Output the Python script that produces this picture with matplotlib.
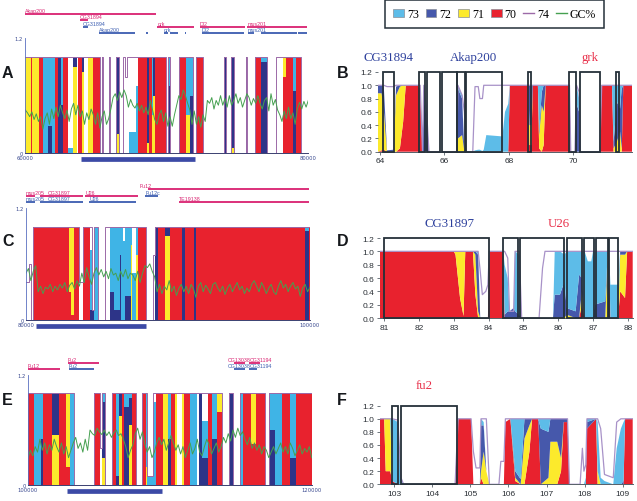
import numpy as np
import matplotlib
matplotlib.use("Agg")
import matplotlib.pyplot as plt
from matplotlib.lines import Line2D
from matplotlib.patches import Patch, Rectangle

W, H = 637, 502
RED, YEL, NAVY, CYAN = "#e8222e", "#fcea2c", "#2d3488", "#3fb4e6"
NAVY_R, CYAN_R = "#4658ab", "#5dbce8"
PINK, BLUE, PUR, PUR_R, GRN = "#d9206f", "#3a5cb0", "#9c6aa8", "#a892c8", "#45a050"
BOX = "#253039"

# panel A, 60-80 kb, each value holds until the next x
a_x = [60.0, 60.4, 60.49, 60.96, 61.27, 61.62, 61.86, 62.09, 62.33, 62.52,
       62.68, 63.04, 63.39, 63.67, 63.74, 63.98, 64.16, 64.45, 64.8, 65.27,
       65.39, 65.51, 65.91, 66.02, 66.4, 66.59, 66.9, 67.05, 67.2, 67.3,
       67.85, 67.98, 68.62, 68.72, 68.92, 69.02, 69.15, 69.92, 70.09, 70.25,
       70.85, 71.34, 71.62, 71.86, 72.09, 72.56, 74.02, 74.16, 74.56, 74.75,
       75.58, 75.69, 76.21, 76.68, 77.11, 77.74, 78.21, 78.4, 78.92, 79.15,
       79.51, 80.0]
a_70 = [0, 1, 0, 1, 0, 0, 0, 1, 0, 0,
        1, 0, 0, 0, 1, 0, 0, 0, 1, 0,
        0, 0, 0, 0, 0, 0, 0, 0, 0, 0,
        0, 1, 0, 1, 0, 0, 1, 0, 0, 0,
        1, 0, 0, 0, 1, 0, 0, 0, 0, 0,
        0, 0, 1, 0, 0, 0, .8, 1, 0, 1,
        0, 0]
a_71 = [1, 0, 1, 0, 0, 0, 0, 0, 0, 0,
        0, 0, .9, 0, 0, .85, 0, 1, 0, 0,
        0, 0, 0, 0, .2, 0, 0, 0, 0, 0,
        0, 0, .1, 0, .4, .6, 0, 0, 0, 0,
        0, .4, 0, 0, 0, 0, 0, 0, .05, 0,
        0, 0, 0, 0, 0, 0, .2, 0, 0, 0,
        0, 0]
a_72 = [0, 0, 0, 0, 0, .28, 0, 0, 1, .5,
        0, 0, .1, 0, 0, .15, 0, 0, 0, 0,
        1, 0, 1, 0, .8, 0, 0, 0, 0, 0,
        0, 0, .9, 0, 0, .4, 0, 0, .7, 0,
        0, 0, .6, 0, 0, 0, 1, 0, .95, 0,
        1, 0, 0, .95, 0, 0, 0, 0, .65, 0,
        0, 0]
a_73 = [0, 0, 0, 0, 1, .72, 1, 0, 0, .5,
        0, .05, 0, 0, 0, 0, 0, 0, 0, 0,
        0, 0, 0, 0, 0, 0, 0, 0, 0, .22,
        .7, 0, 0, 0, .6, 0, 0, 0, .3, 0,
        0, .6, .4, 0, 0, 0, 0, 0, 0, 0,
        0, 0, 0, .05, 0, 0, 0, 0, .35, 0,
        0, 0]
a_74 = [1, 1, 1, 1, 1, 1, 1, 1, 1, 1,
        1, 1, 1, 1, 1, 1, 1, 1, 1, 0,
        1, 0, 1, 0, 1, 0, 1, .8, 1, 1,
        1, 1, 1, 1, 1, 1, 1, 0, 1, 0,
        1, 1, 1, 0, 1, 0, 1, 0, 1, 0,
        1, 0, 1, 1, 0, 1, 1, 1, 1, 1,
        0, 0]
a_gc = [.45, .42, .38, .43, .35, .41, .33, .38, .25, .36, .42, .3, .46, .36, .48, .38, .5, .42, .36, .45,
        .33, .46, .52, .4, .5, .38, .44, .3, .42, .35, .46, .4, .3, .42, .26, .38, .44, .3, .36, .46,
        .58, .62, .55, .64, .58, .66, .6, .48, .56, .5, .47, .52, .44, .5, .42, .48, .4, .55, .45, .35,
        .3, .4, .45, .33, .42, .28, .38, .28, .4, .5, .6, .56, .66, .6, .52, .45, .3, .44, .3, .38,
        .27, .4, .33, .55, .52, .58, .46, .55, .5, .6, .5, .57, .48, .6, .5, .55, .62, .52, .58, .48,
        .55, .62, .58, .5, .57, .52, .6, .52, .46, .55, .58, .44, .62, .5, .56, .45, .4, .33, .44, .36,
        .48, .36, .42, .3, .46, .53, .46, .54, .48, .55]

# panel C, 80-100 kb
c_x = [80.0, 80.2, 80.35, 80.52, 83.0, 83.2, 83.4, 83.7, 84.0, 84.5,
       84.65, 84.78, 85.05, 85.55, 85.9, 86.2, 86.6, 86.7, 86.85, 87.0,
       87.4, 87.47, 87.75, 87.88, 88.45, 88.95, 89.1, 89.3, 89.8, 90.15,
       91.0, 91.2, 91.8, 92.0, 99.65, 99.9, 100.0]
c_70 = [0, 0, 0, 1, .3, .05, 1, 0, 1, 0,
        0, 0, 0, 0, 0, 0, 0, 0, 0, 0,
        0, 0, 0, 1, 0, 0, 0, 1, 0, 1,
        0, 1, 0, 1, 0, 1, 1]
c_71 = [0, 0, 0, 0, .7, .95, 0, 0, 0, 0,
        0, 0, 0, 0, 0, 0, 0, 0, 0, 0,
        .8, 0, .7, 0, 0, 0, 0, 0, .9, 0,
        0, 0, 0, 0, 0, 0, 0]
c_72 = [0, 0, 0, 0, 0, 0, 0, 0, 0, .1,
        .1, 0, 0, 0, .3, .1, .7, 0, 0, .25,
        0, 0, 0, 0, 0, 0, 1, 0, .1, 0,
        1, 0, 1, 0, .95, 0, 0]
c_73 = [0, 0, 0, 0, 0, 0, 0, 0, 0, .65,
        0, 1, 0, 0, .7, .9, .3, 1, .85, .75,
        .2, .5, .3, 0, 0, 0, 0, 0, 0, 0,
        0, 0, 0, 0, .05, 0, 0]
c_74 = [.4, .6, 0, 1, 1, 1, 1, .4, 1, 1,
        .1, 1, 0, 1, 1, 1, 1, 1, 1, 1,
        1, 1, 1, 1, 0, .7, 1, 1, 1, 1,
        1, 1, 1, 1, 1, 1, 1]
c_gc = [.5, .55, .42, .52, .58, .3, .36, .28, .35, .33, .38, .3, .36, .32, .38, .34, .4, .3, .37, .4,
        .33, .42, .36, .5, .4, .56, .46, .38, .5, .56, .48, .54, .46, .52, .44, .55, .48, .5, .42, .52,
        .46, .54, .44, .5, .48, .42, .52, .4, .5, .58, .56, .6, .52, .46, .3, .38, .28, .36, .32, .42,
        .3, .36, .26, .34, .38, .3, .36, .28, .38, .33, .24, .36, .4, .3, .37, .33, .28, .38, .4, .34,
        .3, .36, .27, .34, .38, .3, .35, .4, .32, .36, .28, .34, .3, .38, .42, .36, .3, .4, .35, .28,
        .34, .38, .3, .27, .36, .42, .34, .38, .3, .36, .4, .33, .36, .25, .34, .38, .3, .35]

# panel E, 100-120 kb
e_x = [100.0, 100.45, 100.92, 101.03, 101.72, 102.21, 102.66, 102.96, 103.24, 104.65,
       105.08, 105.19, 105.43, 105.9, 106.2, 106.4, 106.6, 106.8, 107.1, 107.35,
       107.6, 108.05, 108.3, 108.4, 108.84, 109.05, 109.54, 109.85, 110.06, 110.36,
       110.48, 110.83, 111.0, 111.42, 111.89, 112.06, 112.24, 112.71, 112.95, 113.3,
       113.65, 114.2, 114.48, 114.95, 115.14, 115.7, 116.05, 116.71, 117.02, 117.41,
       117.93, 118.47, 118.87, 120.0]
e_70 = [1, 0, 0, 1, 0, 1, .2, 0, 0, 1,
        0, 0, 0, 1, 0, 0, 1, 0, 0, 1,
        0, 1, 0, 0, 0, 1, 0, 0, 1, 0,
        0, 0, 1, 0, 0, 0, 0, 1, 0, .8,
        0, 0, 0, 0, 1, .45, 1, 0, 0, 0,
        1, 0, 1, 1]
e_71 = [0, 0, 0, 0, .55, 0, .8, 0, 0, 0,
        0, .3, 0, 0, 0, .75, 0, 0, .65, 0,
        0, 0, .2, 0, 0, 0, 1, 0, 0, 1,
        0, 1, 0, 0, 0, 0, 0, 0, 0, .2,
        0, 0, 0, 0, 0, .55, 0, 0, 0, 0,
        0, 0, 0, 0]
e_72 = [0, 0, .5, 0, .45, 0, 0, 0, 0, 0,
        0, .6, 0, 0, .1, .25, 0, .85, .3, 0,
        0, 0, 0, 0, 0, 0, 0, .5, 0, 0,
        0, 0, 0, 0, 0, 1, .3, 0, .5, 0,
        0, 1, 0, 0, 0, 0, 0, 0, .6, 0,
        0, .3, 0, 0]
e_73 = [0, 1, .5, 0, 0, 0, 0, 1, 0, 0,
        0, .1, 0, 0, .9, 0, 0, .15, .05, 0,
        0, 0, .8, .1, .9, 0, 0, .5, 0, 0,
        0, 0, 0, 1, 0, 0, .4, 0, .5, 0,
        0, 0, 0, 1, 0, 0, 0, 0, .4, 1,
        0, .7, 0, 0]
e_74 = [1, 1, 1, 1, 1, 1, 1, 1, 0, 1,
        .4, 1, 0, 1, 1, 1, 1, 1, 1, 1,
        0, 1, 1, .1, 1, 1, 1, 1, 1, 1,
        1, 1, 1, 1, 1, 1, 1, 1, 1, 1,
        0, 1, 0, 1, 1, 1, 1, 0, 1, 1,
        1, 1, 1, 1]
e_gc = [.3, .38, .32, .42, .36, .5, .38, .46, .34, .44, .38, .5, .42, .36, .46, .34, .42, .3, .38, .46,
        .52, .4, .46, .36, .5, .38, .6, .56, .54, .62, .58, .55, .6, .54, .58, .52, .57, .6, .54, .56,
        .5, .42, .3, .38, .44, .56, .62, .5, .58, .45, .36, .42, .3, .36, .46, .52, .44, .5, .38, .46,
        .54, .46, .38, .44, .34, .42, .3, .38, .46, .34, .4, .5, .36, .32, .42, .5, .44, .34, .4, .46,
        .36, .42, .52, .46, .56, .48, .6, .52, .62, .54, .58, .5, .44, .52, .4, .46, .38, .44, .34, .42,
        .38, .3, .36, .42, .34, .4, .46, .36, .42, .34, .46, .4, .32, .38, .44, .34, .4, .36, .42, .3]

# panel B, zoom on 64-72 kb
b_x = [63.94, 64.05, 64.12, 64.22, 64.42, 64.5, 64.62, 64.72, 64.8, 65.18,
       65.25, 65.32, 65.36, 65.45, 65.52, 66.38, 66.42, 66.55, 66.62, 66.68,
       66.88, 66.95, 67.05, 67.1, 67.18, 67.22, 67.3, 67.8, 67.88, 67.98,
       68.03, 68.6, 68.64, 68.7, 68.74, 68.9, 68.94, 69.02, 69.08, 69.14,
       69.2, 69.88, 69.92, 70.05, 70.1, 70.18, 70.22, 70.82, 70.88, 71.2,
       71.25, 71.35, 71.45, 71.5, 71.55, 71.82]
b_70 = [0, .02, .03, 0, 0, 0, .05, .45, 1, 1,
        .95, 0, 0, 0, 0, 0, 0, 0, 0, 0,
        0, 0, 0, 0, 0, 0, 0, 0, 0, 0,
        1, 1, .1, .1, 1, 1, .05, 0, .1, 1,
        1, 1, 0, 0, 0, 0, 0, 0, 1, 1,
        0, 0, 0, 0, 1, 1]
b_71 = [.88, .86, .6, 0, 0, .85, .93, .55, 0, 0,
        .05, 0, 0, 0, 0, 0, .2, .25, 0, 0,
        0, 0, 0, 0, 0, 0, 0, 0, 0, 0,
        0, 0, .3, .3, 0, 0, .2, .7, .5, 0,
        0, 0, 0, 0, 0, 0, 0, 0, 0, 0,
        .05, .15, .3, .05, 0, 0]
b_72 = [.12, .12, .35, .02, .03, .13, .02, 0, 0, 0,
        0, 0, .8, .5, 0, 0, .75, .55, 0, 0,
        0, 0, 0, 0, 0, 0, 0, 0, 0, 0,
        0, 0, .6, .6, 0, 0, .05, .2, .4, 0,
        0, 0, 0, 0, .72, .6, 0, 0, 0, 0,
        .1, .6, .35, .9, 0, 0]
b_73 = [0, 0, 0, 0, 0, 0, 0, 0, 0, 0,
        0, 0, .2, .1, 0, 0, .05, .05, 0, 0,
        0, .02, .03, .03, .01, .03, .25, .23, .6, .72,
        0, 0, 0, 0, 0, 0, .7, .1, 0, 0,
        0, 0, 0, 0, .28, .2, 0, 0, 0, 0,
        .85, .25, .35, .05, 0, 0]
b_74 = [1, 1, 1, .98, .98, 1, 1, 1, 1, 1,
        1, 0, 1, .6, 0, 0, 1, .85, .6, 0,
        0, .98, .98, .8, .8, 1, 1, 1, 1, 1,
        1, 1, 1, 1, 1, 1, 1, 1, 1, 1,
        1, 1, 0, 0, 1, .9, 0, 0, 1, 1,
        1, 1, 1, 1, 1, 1]
b_boxes = [(64.08, 64.43), (65.22, 65.41), (65.47, 65.86), (65.93, 66.38), (66.4, 66.64),
           (66.66, 67.8), (68.6, 68.7), (69.87, 70.07), (70.2, 70.84), (71.33, 71.42)]

# panel D, zoom on 81-88 kb
d_x = [80.88, 83.0, 83.05, 83.18, 83.28, 83.33, 83.55, 83.62, 83.7, 83.76,
       83.82, 83.92, 83.98, 84.02, 84.42, 84.46, 84.55, 84.6, 84.72, 84.76,
       84.88, 84.95, 85.45, 85.55, 85.62, 85.85, 85.9, 86.05, 86.18, 86.24,
       86.5, 86.6, 86.68, 86.76, 86.85, 86.95, 87.0, 87.05, 87.35, 87.42,
       87.46, 87.5, 87.72, 87.78, 87.92, 87.98, 88.14]
d_70 = [1, 1, .95, .3, .03, 1, 1, .35, 0, 0,
        0, 0, 0, 1, 1, 0, 0, 0, 0, 0,
        0, 0, 0, 0, 0, 0, 0, 0, 0, 0,
        0, 0, .2, 0, 0, 0, 0, 0, 0, 0,
        1, 0, 0, .4, .3, 1, 1]
d_71 = [0, 0, .05, .7, .97, 0, 0, .6, .1, 0,
        0, 0, 0, 0, 0, 0, 0, 0, 0, 0,
        0, 0, 0, 0, 0, 0, 0, 0, 0, .05,
        0, 0, .2, 0, 0, 0, 0, 0, 0, .9,
        0, 0, 0, .55, .65, 0, 0]
d_72 = [0, 0, 0, 0, 0, 0, 0, .05, .85, 0,
        0, 0, 0, 0, 0, .05, .1, .1, .15, .1,
        .05, 0, 0, 0, 0, 0, .35, .35, .55, .1,
        .1, .65, .2, 0, 0, 0, 0, .2, .25, .05,
        0, 0, 0, .05, .05, 0, 0]
d_73 = [0, 0, 0, 0, 0, 0, 0, 0, .05, 0,
        0, 0, 0, 0, 0, .75, .5, 0, 0, .9,
        .9, 0, 0, 0, 0, 0, .65, .65, .4, .85,
        .9, .35, .4, 1, .85, .85, 1, .8, .75, .05,
        0, .5, .5, 0, 0, 0, 0]
d_74 = [1, 1, 1, 1, 1, 1, 1, 1, 1, .7,
        .35, .4, .5, 1, 1, 1, .9, .1, .1, 1,
        1, 0, 0, .75, 1, 1, 1, 1, 1, 1,
        1, 1, 1, 1, 1, 1, 1, 1, 1, 1,
        1, 1, 1, 1, 1, 1, 1]
d_boxes = [(81.0, 84.0), (84.42, 84.84), (84.91, 86.18), (86.25, 86.68), (86.75, 87.02),
           (87.08, 87.42), (87.47, 87.73)]

# panel F, zoom on 103-109 kb
f_x = [102.63, 102.74, 102.78, 102.9, 102.95, 103.1, 103.18, 103.25, 104.6, 104.68,
       105.02, 105.08, 105.15, 105.25, 105.28, 105.35, 105.42, 105.5, 105.75, 105.8,
       105.88, 105.92, 106.05, 106.18, 106.32, 106.42, 106.55, 106.62, 106.78, 106.85,
       107.05, 107.1, 107.28, 107.38, 107.45, 107.55, 107.6, 107.88, 107.94, 107.98,
       108.03, 108.06, 108.3, 108.34, 108.42, 108.52, 108.75, 108.84, 108.95, 109.02,
       109.06, 109.26]
f_70 = [1, 1, .2, .2, .05, 0, 0, 0, 0, 1,
        1, 0, 0, 0, .1, 0, 0, 0, 0, 0,
        0, .95, 1, .05, 0, 0, .5, 1, 1, 0,
        0, 0, 0, .2, .95, .95, 0, 0, 0, 0,
        0, .85, 1, 0, 0, 0, 0, 0, 0, 0,
        1, 1]
f_71 = [0, 0, .8, .8, 0, 0, 0, 0, 0, 0,
        0, 0, 0, 0, .1, .5, .2, 0, 0, 0,
        0, 0, 0, .05, 0, .7, .4, 0, 0, 0,
        .1, .65, .65, .2, 0, 0, 0, 0, 0, 0,
        0, 0, 0, .2, 0, 0, 0, 0, 0, 0,
        0, 0]
f_72 = [0, 0, 0, 0, 0, 0, 0, 0, 0, 0,
        0, 0, 0, 0, .7, .4, 0, 0, 0, 0,
        0, 0, 0, .1, .08, .3, .1, 0, 0, .85,
        .7, .35, .35, .6, .05, .05, 0, 0, 0, 0,
        0, .1, 0, 0, 0, 0, 0, 0, 0, .05,
        0, 0]
f_73 = [0, 0, 0, 0, .95, .95, .1, 0, 0, 0,
        0, 0, 0, 0, .1, .05, 0, 0, 0, 0,
        0, 0, 0, .8, .92, 0, 0, 0, 0, .15,
        .2, 0, 0, 0, 0, 0, 0, 0, 0, 0,
        .1, .05, 0, .75, .1, .05, 0, .55, .85, .9,
        0, 0]
f_74 = [1, 1, 1, 1, 1, .98, .1, 0, 0, 1,
        1, .5, .25, .25, 1, 1, 1, 0, 0, .35,
        .35, 1, 1, 1, 1, 1, 1, 1, 1, 1,
        1, 1, 1, 1, 1, 1, 0, 0, .55, .2,
        .3, 1, 1, 1, .85, .15, .1, .95, 1, 1,
        1, 1]
f_boxes = [(102.94, 103.1), (103.17, 104.66)]

# gene tracks above the overview panels: name, start, end, level, where the label starts
a_pink = [("Akap200", 59.98, 69.27, 1.456, 59.98), ("CG31894", 63.86, 64.45, 1.387, 63.86),
          ("grk", 69.34, 71.91, 1.32, 69.34), ("Dl2", 72.33, 75.5, 1.32, 72.33),
          ("mus201", 75.69, 79.93, 1.32, 75.69)]
a_blue = [("CG31894", 64.09, 64.4, 1.32, 64.09), ("Akap200", 65.18, 67.74, 1.254, 65.18),
          ("", 68.52, 68.68, 1.254, 0), ("grk", 69.79, 70.05, 1.254, 69.79), ("", 70.21, 70.8, 1.254, 0),
          ("", 71.27, 71.39, 1.254, 0), ("Dl2", 72.49, 75.44, 1.254, 72.49),
          ("mus201", 75.74, 76.14, 1.254, 75.74), ("", 76.64, 79.2, 1.254, 0), ("", 79.27, 79.93, 1.254, 0)]
c_pink = [("Fu12", 88.62, 99.93, 1.405, 87.98), ("mus205", 80.0, 80.63, 1.33, 80.0),
          ("CG31897", 80.99, 83.99, 1.33, 81.5), ("U26", 84.18, 87.91, 1.33, 84.18),
          ("TE19138", 90.77, 99.93, 1.262, 90.77)]
c_blue = [("mus205", 80.0, 80.63, 1.262, 80.0), ("CG31897", 80.99, 83.99, 1.262, 81.5),
          ("U26", 84.46, 87.75, 1.262, 84.46), ("Fu12c", 88.4, 89.32, 1.33, 88.4)]
e_pink = [("Fu12", 99.98, 102.28, 1.264, 99.98), ("Fu2", 102.8, 105.0, 1.33, 102.8),
          ("CG13038", 114.52, 115.3, 1.33, 114.1), ("CG31194", 115.58, 116.36, 1.33, 115.6)]
e_blue = [("Fu2", 102.89, 104.63, 1.264, 102.89), ("CG13038", 114.52, 115.3, 1.264, 114.1),
          ("CG31194", 115.58, 116.17, 1.264, 115.6)]

a_bar = (63.93, 71.98)
c_bar = (80.7, 88.43)
e_bar = (102.73, 109.47)


def make_axes(fig, left, right, top, bottom):
    return fig.add_axes([left / W, 1 - bottom / H, (right - left) / W, (bottom - top) / H])


def tracks(ax, items, color):
    for name, start, end, level, label_at in items:
        ax.plot([start, end], [level, level], color=color, lw=1.3, solid_capstyle="butt", clip_on=False)
        if name:
            ax.text(label_at, level + 0.012, name, color=color, fontsize=3.8, family="Liberation Sans",
                    va="bottom", ha="left", clip_on=False)


def overview(ax, x, s70, s71, s72, s73, s74, gc, lim, pink, blue, bar, labels):
    ax.stackplot(x, s70, s71, s72, s73, colors=[RED, YEL, NAVY, CYAN], step="post", lw=0)
    ax.plot(x, s74, color=PUR, lw=0.7, drawstyle="steps-post")
    ax.plot(np.linspace(lim[0], lim[1], len(gc)), gc, color=GRN, lw=0.7)
    ax.set_xlim(*lim)
    ax.set_ylim(0, 1.2)
    for side in ("top", "right"):
        ax.spines[side].set_visible(False)
    ax.spines["left"].set_color("#5a6fc0")
    ax.spines["left"].set_linewidth(0.6)
    ax.spines["bottom"].set_color("#3a4070")
    ax.spines["bottom"].set_linewidth(0.7)
    ax.set_xticks(lim)
    ax.set_xticklabels(labels)
    ax.set_yticks([0, 1.2])
    ax.set_yticklabels(["0", "1.2"])
    ax.tick_params(length=0, pad=1.5, labelsize=3.8, labelcolor="#3a4a90")
    tracks(ax, pink, PINK)
    tracks(ax, blue, BLUE)
    ax.plot(bar, [-0.066, -0.066], color="#3c4aa6", lw=3.4, solid_capstyle="butt", clip_on=False)


def detail(ax, x, s70, s71, s72, s73, s74, boxes, xticks, lim):
    ax.stackplot(x, s70, s71, s72, s73, colors=[RED, YEL, NAVY_R, CYAN_R], lw=0)
    ax.plot(x, s74, color=PUR_R, lw=0.9)
    for start, end in boxes:
        ax.add_patch(Rectangle((start, 0), end - start, 1.2, fill=False, ec=BOX, lw=1.3, clip_on=False, zorder=5))
    ax.set_xlim(*lim)
    ax.set_ylim(0, 1.2)
    ax.set_xticks(xticks)
    ax.set_yticks([0, .2, .4, .6, .8, 1.0, 1.2])
    ax.set_yticklabels(["0.0", "0.2", "0.4", "0.6", "0.8", "1.0", "1.2"])
    for side in ("top", "right", "left"):
        ax.spines[side].set_visible(False)
    ax.spines["bottom"].set_color("#555f68")
    ax.spines["bottom"].set_linewidth(0.7)
    ax.tick_params(length=2, width=0.6, pad=2, labelsize=6, color="#555f68", labelcolor="#2a2f35")
    for lab in ax.get_xticklabels() + ax.get_yticklabels():
        lab.set_family("Liberation Sans")


fig = plt.figure(figsize=(W / 100, H / 100), dpi=100)

ax_a = make_axes(fig, 25.3, 308.3, 39.3, 154)
overview(ax_a, a_x, a_70, a_71, a_72, a_73, a_74, a_gc, (60.0, 80.0), a_pink, a_blue, a_bar, ["60000", "80000"])
ax_c = make_axes(fig, 26, 310, 209, 320.7)
overview(ax_c, c_x, c_70, c_71, c_72, c_73, c_74, c_gc, (80.0, 100.0), c_pink, c_blue, c_bar, ["80000", "100000"])
ax_e = make_axes(fig, 28, 311.7, 375.7, 486.3)
overview(ax_e, e_x, e_70, e_71, e_72, e_73, e_74, e_gc, (100.0, 120.0), e_pink, e_blue, e_bar, ["100000", "120000"])

ax_b = make_axes(fig, 378, 632, 73, 152.7)
detail(ax_b, b_x, b_70, b_71, b_72, b_73, b_74, b_boxes, [64, 66, 68, 70], (63.94, 71.82))
ax_d = make_axes(fig, 380, 632.7, 239, 319)
detail(ax_d, d_x, d_70, d_71, d_72, d_73, d_74, d_boxes, [81, 82, 83, 84, 85, 86, 87, 88], (80.88, 88.14))
ax_f = make_axes(fig, 380, 632.7, 406.7, 485.3)
detail(ax_f, f_x, f_70, f_71, f_72, f_73, f_74, f_boxes, [103, 104, 105, 106, 107, 108, 109], (102.63, 109.26))

for ax, x, y, name, col in [(ax_b, 64.28, 1.426, "CG31894", "#2c3f9c"), (ax_b, 66.9, 1.426, "Akap200", "#2c3f9c"),
                            (ax_b, 70.53, 1.426, "grk", "#e8304a"), (ax_d, 82.88, 1.42, "CG31897", "#2c3f9c"),
                            (ax_d, 86.03, 1.42, "U26", "#e8304a"), (ax_f, 103.8, 1.516, "fu2", "#e8304a")]:
    ax.text(x, y, name, color=col, family="Liberation Serif", fontsize=9.3, ha="center", va="center")

for letter, px, py in [("A", 2, 74), ("B", 337, 74), ("C", 2, 241), ("D", 337, 241), ("E", 2, 401), ("F", 337, 401)]:
    fig.text(px / W, 1 - py / H, letter, fontsize=11.5, fontweight="bold", family="Liberation Sans",
             ha="left", va="center", color="#15181c")

handles = [Patch(fc=CYAN_R, ec="#8a8f98", lw=0.5, label="73"), Patch(fc=NAVY_R, ec="#8a8f98", lw=0.5, label="72"),
           Patch(fc=YEL, ec="#8a8f98", lw=0.5, label="71"), Patch(fc=RED, ec="#8a8f98", lw=0.5, label="70"),
           Line2D([], [], color=PUR, lw=1, label="74"), Line2D([], [], color=GRN, lw=1, label="GC%")]
leg = fig.legend(handles=handles, ncol=6, loc="center", bbox_to_anchor=(494.5 / W, 1 - 15 / H), fancybox=False,
                 prop={"family": "Liberation Serif", "size": 8.6}, handlelength=0.9, handleheight=0.6,
                 handletextpad=0.25, columnspacing=0.58, borderpad=0.7, framealpha=1)
leg.get_frame().set_edgecolor(BOX)
leg.get_frame().set_linewidth(1.1)

fig.savefig("out.png", dpi=100)
